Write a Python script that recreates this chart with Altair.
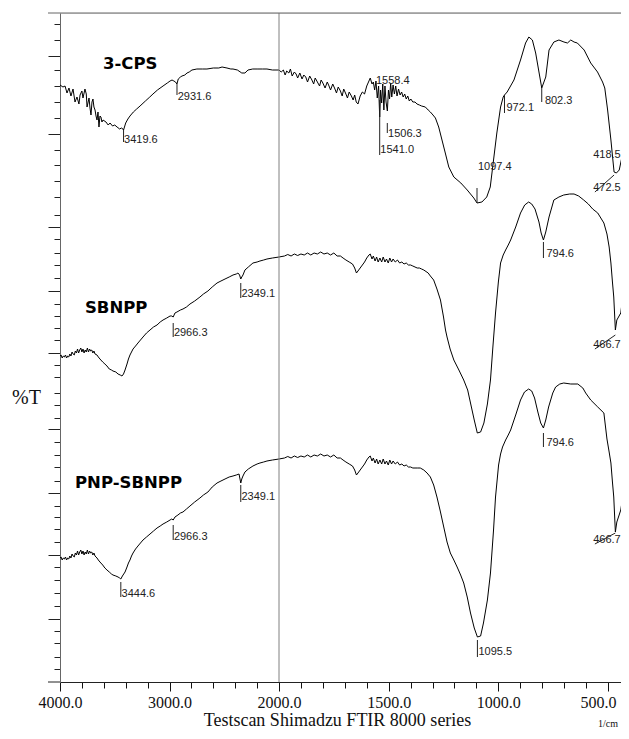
import altair as alt
import pandas as pd

# ---------------- spectra (wavenumber 1/cm, transmittance in arbitrary offset units) -------------
cps_wn = [4000, 3973, 3954, 3936, 3918, 3900, 3881, 3863, 3845, 3827, 3817, 3800, 3790, 3772, 3760, 3753,
          3735, 3726, 3717, 3708, 3699, 3690, 3680, 3671, 3662, 3653, 3644, 3635, 3626, 3617, 3607, 3580,
          3560, 3543, 3520, 3500, 3479, 3455, 3440, 3425, 3419.6, 3400, 3380, 3361, 3330, 3300, 3269, 3220,
          3180, 3151, 3110, 3059, 3020, 2995, 2977, 2960, 2945, 2932, 2920, 2900, 2886, 2860, 2840, 2820,
          2795, 2750, 2700, 2658, 2600, 2550, 2520, 2475, 2440, 2420, 2380, 2340, 2311, 2283, 2240, 2200,
          2150, 2110, 2060, 2000,
          1990, 1980, 1972, 1965, 1955, 1948, 1940, 1930, 1922, 1915, 1905, 1895, 1887, 1878, 1870, 1860,
          1850, 1842, 1835, 1825, 1815, 1808, 1800, 1790, 1780, 1772, 1765, 1755, 1745, 1738, 1730, 1720,
          1712, 1705, 1695, 1688, 1680, 1670, 1662, 1655, 1648, 1640,
          1630, 1620, 1610, 1600, 1592, 1584, 1576, 1570, 1564, 1558, 1552, 1546,
          1541, 1537, 1532, 1527, 1522, 1517, 1512, 1506, 1501, 1496, 1491, 1486, 1480, 1474, 1468, 1462,
          1455, 1448, 1441, 1434, 1427, 1420, 1413, 1406, 1399, 1390, 1380, 1371, 1360, 1350, 1333, 1320,
          1310, 1298, 1287, 1272, 1257, 1242, 1226, 1203, 1171, 1142, 1112, 1097.4, 1075, 1053, 1037, 1022,
          1007, 990, 978, 972.1, 960, 929, 899, 876, 861, 845, 830, 815, 802.3, 784, 769, 747,
          724, 701, 685, 670, 655, 640, 609, 579, 548, 525, 515, 502, 487, 478, 472.5, 462,
          449, 433, 419, 406]
cps_t = [597, 595, 596, 589, 594, 586, 593, 580, 585, 578, 587, 591, 584, 593, 588, 575,
         584, 574, 567, 580, 583, 575, 572, 566, 562, 570, 555, 566, 565, 560, 562, 560,
         557, 559, 556, 557, 555, 553, 554, 553, 552, 559, 563, 566, 570, 573, 576, 581,
         585, 588, 592, 596, 599, 601, 602, 601, 600, 598, 603, 605, 606, 607, 609, 610,
         612, 613, 613, 613, 614, 614, 615, 614, 613, 613, 612, 609, 609, 612, 613, 613,
         613, 613, 612, 612,
         610, 612, 607, 611, 609, 613, 606, 610, 608, 604, 609, 603, 607, 605, 600, 606,
         602, 598, 604, 600, 596, 602, 599, 594, 600, 596, 592, 598, 593, 589, 595, 591,
         586, 593, 588, 584, 590, 586, 582, 587, 580, 578,
         586, 590, 588, 596, 600, 604, 598, 600, 592, 601, 584, 596,
         565, 592, 579, 598, 572, 596, 580, 571, 592, 583, 599, 585, 597, 588, 596, 586,
         593, 587, 590, 585, 588, 583, 586, 581, 583, 580, 580, 578, 577, 576, 575, 572,
         570, 567, 564, 555, 542, 529, 515, 505, 499, 492, 484, 479, 480, 485, 495, 522,
         549, 575, 585, 587, 590, 602, 622, 639, 645, 642, 629, 610, 594, 605, 632, 640,
         642, 640, 639, 642, 640, 639, 632, 619, 610, 600, 594, 572, 542, 522, 510, 509,
         512, 529, 549, 572]

sb_wn = [4000, 3990, 3980, 3970, 3960, 3950, 3940, 3930, 3920, 3910, 3900, 3890, 3880, 3870, 3860, 3850,
         3840, 3830, 3820, 3810, 3800, 3790, 3780, 3770, 3760, 3750, 3740, 3730, 3720, 3710, 3700, 3690,
         3680, 3662, 3650, 3635, 3610, 3590, 3571, 3550, 3530, 3516, 3490, 3470, 3450, 3434, 3420, 3406,
         3388, 3375, 3361, 3347, 3333, 3310, 3288, 3265, 3242, 3210, 3178, 3146, 3114, 3085, 3059, 3025,
         2995, 2980, 2966.3, 2950, 2932, 2900, 2877, 2845, 2813, 2770, 2722, 2690, 2649, 2610, 2566, 2530,
         2493, 2455, 2420, 2390, 2375, 2360, 2349.1, 2340, 2329, 2311, 2280, 2238, 2200, 2174, 2140, 2110,
         2060, 2000, 1975, 1960, 1945, 1930, 1915, 1900, 1885, 1870, 1855, 1840, 1825, 1810, 1795, 1780,
         1765, 1750, 1735, 1720, 1708, 1695, 1680, 1665, 1655, 1647, 1640, 1630, 1620, 1610, 1600, 1590,
         1584, 1576, 1570, 1562, 1555, 1548, 1540, 1532, 1525, 1517, 1510, 1502, 1495, 1487, 1480, 1470,
         1460, 1450, 1440, 1430, 1420, 1410, 1400, 1390, 1380, 1370, 1360, 1350, 1340, 1320, 1310, 1295,
         1280, 1264, 1250, 1241, 1234, 1220, 1203, 1180, 1158, 1140, 1127, 1110, 1096, 1081, 1066, 1050,
         1036, 1025, 1013, 1000, 990, 978, 967, 955, 944, 921, 899, 880, 862, 848, 833, 815,
         805, 794.6, 784, 769, 747, 724, 702, 675, 655, 634, 611, 590, 570, 547, 519, 505,
         495, 487, 480, 474, 466.7, 460, 442, 433, 419, 406]
sb_t = [326, 327, 324, 326, 325, 327, 324, 326, 325, 328, 326, 330, 328, 327, 331, 329,
        333, 329, 332, 334, 330, 333, 329, 332, 330, 334, 330, 333, 331, 332, 329, 331,
        328, 327, 325, 323, 320, 318, 316, 313, 312, 311, 310, 308, 307, 306, 308, 312,
        318, 323, 327, 330, 333, 336, 339, 342, 345, 349, 352, 355, 357, 360, 362, 364,
        366, 366, 365, 369, 370, 372, 373, 375, 378, 381, 385, 388, 391, 395, 399, 401,
        403, 405, 407, 408, 409, 407, 403, 405, 407, 412, 415, 419, 420, 421, 422, 423,
        424, 425, 426, 427.5, 426, 428, 426.5, 428, 427, 429, 427, 429, 428, 430, 428, 429,
        427, 429, 426, 426, 424, 422, 420, 418, 414, 409, 411, 414, 417, 420, 424, 427,
        428, 423, 426, 421, 425, 420, 424, 420, 425, 420, 423, 419, 424, 420, 423, 420,
        422, 419, 420, 418, 419, 417, 417, 416, 415, 414, 414, 413, 412, 409, 406, 402,
        393, 382, 365, 352, 345, 333, 322, 312, 302, 292, 279, 262, 249, 250, 259, 278,
        302, 335, 369, 400, 419, 427, 432, 437, 442, 455, 469, 477, 480, 478, 473, 460,
        449, 442, 450, 465, 482, 485, 487, 488, 488, 486, 482, 478, 473, 469, 459, 448,
        435, 419, 400, 385, 352, 362, 369, 385, 419, 452]

pnp_wn = [4000, 3990, 3980, 3970, 3960, 3950, 3940, 3930, 3920, 3910, 3900, 3890, 3880, 3870, 3860, 3850,
          3840, 3830, 3820, 3810, 3800, 3790, 3780, 3770, 3760, 3750, 3740, 3730, 3720, 3710, 3700, 3690,
          3680, 3662, 3650, 3635, 3610, 3590, 3571, 3550, 3530, 3516, 3490, 3470, 3455, 3444.6, 3430, 3406,
          3388, 3375, 3361, 3347, 3333, 3310, 3288, 3265, 3242, 3210, 3178, 3146, 3114, 3085, 3059, 3025,
          2995, 2980, 2966.3, 2950, 2923, 2900, 2877, 2845, 2813, 2770, 2722, 2690, 2649, 2610, 2566, 2530,
          2493, 2455, 2420, 2390, 2365, 2349.1, 2340, 2329, 2311, 2280, 2238, 2200, 2174, 2140, 2110, 2060,
          2000, 1975, 1960, 1945, 1930, 1915, 1900, 1885, 1870, 1855, 1840, 1825, 1810, 1795, 1780, 1765,
          1750, 1735, 1720, 1708, 1695, 1680, 1665, 1655, 1647, 1640, 1630, 1620, 1610, 1600, 1590, 1584,
          1576, 1570, 1562, 1555, 1548, 1540, 1532, 1525, 1517, 1510, 1502, 1495, 1487, 1480, 1470, 1460,
          1450, 1440, 1430, 1420, 1410, 1400, 1390, 1380, 1370, 1356, 1340, 1325, 1310, 1295, 1280, 1265,
          1249, 1234, 1219, 1203, 1188, 1172, 1158, 1142, 1127, 1110, 1095.5, 1081, 1068, 1050, 1036, 1022,
          1013, 999, 990, 981, 967, 955, 944, 921, 899, 881, 862, 848, 835, 820, 807, 794.6,
          784, 771, 752, 739, 720, 702, 670, 638, 615, 602, 579, 547, 519, 505, 495, 487,
          480, 474, 466.7, 460, 442, 433, 419, 406]
pnp_t = [124, 125, 122, 124, 123, 125, 122, 124, 123, 126, 124, 128, 126, 125, 129, 127,
         131, 127, 130, 132, 128, 131, 127, 130, 128, 132, 128, 131, 129, 130, 127, 129,
         126, 124, 122, 120, 117, 114, 112, 110, 108, 107, 106, 105, 104, 103, 106, 110,
         115, 119, 122, 126, 129, 133, 136, 139, 142, 145, 148, 151, 154, 156, 158, 160,
         162, 163, 162, 165, 167, 169, 170, 173, 176, 180, 184, 187, 190, 195, 199, 201,
         203, 205, 206, 207, 208, 199, 203, 206, 210, 213, 216, 218, 219, 220, 221, 222,
         223, 224, 225.5, 224, 226, 224.5, 226, 225, 227, 225, 227, 226, 228, 226, 227, 225,
         227, 224, 224, 222, 220, 218, 216, 212, 207, 209, 212, 215, 218, 222, 225, 226,
         221, 224, 219, 223, 218, 222, 218, 223, 218, 221, 217, 222, 218, 221, 218, 220,
         217, 218, 216, 217, 215, 215, 214, 214, 214, 214, 212, 209, 205, 197, 185, 171,
         155, 140, 129, 122, 115, 107, 99, 85, 69, 54, 45, 46, 59, 82, 109, 152,
         185, 217, 228, 235, 242, 247, 252, 267, 282, 290, 293, 291, 284, 270, 259, 254,
         262, 275, 289, 295, 298, 299, 298, 298, 294, 289, 282, 275, 269, 243, 230, 219,
         200, 185, 150, 160, 172, 185, 219, 252]

series_names = ["3-CPS", "SBNPP", "PNP-SBNPP"]

# ---------------- annotations -------------
name_wn = [3607, 3772, 3863]
name_t = [618, 374, 199]

lab_text = ["3419.6", "2931.6", "1558.4", "1541.0", "1506.3", "1097.4", "972.1", "802.3", "472.5", "418.5",
            "2966.3", "2349.1", "794.6", "466.7",
            "3444.6", "2966.3", "2349.1", "794.6", "1095.5", "466.7"]
lab_wn = [3415, 2925, 1558, 1538, 1503, 1093, 963, 788, 568, 568,
          2960, 2343, 781, 568,
          3438, 2960, 2343, 781, 1091, 568]
lab_t = [542, 585, 601, 532, 548, 515, 574, 581, 494, 527,
         349, 388, 428, 337,
         88, 145, 185, 239, 30, 142]

mk_wn = [3419.6, 2931.6, 1541.0, 1506.3, 1097.4, 972.1, 802.3,
         2966.3, 2349.1, 794.6,
         3444.6, 2966.3, 2349.1, 794.6, 1095.5]
mk_t1 = [552, 598, 582, 559, 494, 587, 594, 359, 399, 440, 100, 157, 197, 249, 42]
mk_t2 = [540, 587, 527, 549, 479, 569, 580, 345, 384, 424, 85, 142, 180, 235, 25]

dg_wn1 = [560, 560, 560]
dg_t1 = [490, 333, 138]
dg_wn2 = [472.5, 466.7, 466.7]
dg_t2 = [507, 347, 149]

x_ticks = [4000, 3800, 3600, 3400, 3200, 3000, 2800, 2600, 2400, 2200, 2000,
           1900, 1800, 1700, 1600, 1500, 1400, 1300, 1200, 1100, 1000, 900, 800, 700, 600, 500]
y_major = [626.3, 547.7, 455.3, 391, 329.3, 252.7, 188.7, 127, 63]
y_minor = [657.7, 641.7, 611.7, 595.7, 579.7, 563.7, 532, 516.7, 501, 485, 467, 442.7, 429.3, 416.7,
           403.7, 378.3, 366, 353.7, 342, 317.3, 304.7, 289.3, 277.3, 264.3, 240, 227, 214.7, 201.3,
           176.3, 164.7, 152.7, 140.3, 114.7, 102, 88.7, 76.3, 51, 38.7, 25.3, 12.7]

for a, b in [(cps_wn, cps_t), (sb_wn, sb_t), (pnp_wn, pnp_t)]:
    assert len(a) == len(b), (len(a), len(b))

# ---------------- build tables -------------
rows = []
for name, wn, tt in zip(series_names, [cps_wn, sb_wn, pnp_wn], [cps_t, sb_t, pnp_t]):
    for a, b in zip(wn, tt):
        rows.append({"series": name, "wn": a, "t": b})
spec = pd.DataFrame(rows)
names = pd.DataFrame({"name": series_names, "wn": name_wn, "t": name_t})
labels = pd.DataFrame({"text": lab_text, "wn": lab_wn, "t": lab_t})
marks = pd.DataFrame({"wn": mk_wn, "t1": mk_t1, "t2": mk_t2})
diags = pd.DataFrame({"wn1": dg_wn1, "t1": dg_t1, "wn2": dg_wn2, "t2": dg_t2})

W, H = 561, 669
xs = alt.Scale(domain=[4000, 2000, 441], range=[0, 219, W], nice=False, zero=False)
ys = alt.Scale(domain=[0, 669], nice=False, zero=False)

xmaj = "(datum.value % 1000 === 0 || (datum.value < 2000 && datum.value % 500 === 0))"
ymaj = "indexof([" + ",".join(str(v) for v in y_major) + "], datum.value) >= 0"

x_axis = alt.Axis(
    values=x_ticks, labelExpr=xmaj + " ? format(datum.value, '.1f') : ''",
    labelFont="Liberation Serif", labelFontSize=16, labelColor="#111", labelFlush=False,
    labelOverlap=False, labelPadding=3,
    labelOffset={"condition": {"test": "datum.value === 500", "value": -10}, "value": 0},
    tickSize={"condition": {"test": xmaj, "value": 9}, "value": 6},
    tickColor="#111", domainColor="#222", grid=False,
    title="Testscan Shimadzu FTIR 8000 series", titleFont="Liberation Serif", titleFontSize=18,
    titleFontWeight="normal", titleColor="#111", titleX=277, titleY=43,
    titleAlign="center", titleBaseline="alphabetic")
y_axis = alt.Axis(
    values=y_major + y_minor, labels=False,
    tickSize={"condition": {"test": ymaj, "value": 12}, "value": 6},
    tickColor="#222", domainColor="#666", grid=False,
    title="%T", titleFont="Liberation Serif", titleFontSize=20, titleFontWeight="normal",
    titleColor="#111", titleAngle=0, titleX=-34, titleY=384, titleAlign="center",
    titleBaseline="middle")


def X(field):
    return alt.X(field, scale=xs, axis=x_axis)


def Y(field):
    return alt.Y(field, scale=ys, axis=y_axis)


lines = alt.Chart(spec).mark_line(color="black", strokeWidth=1, clip=True, interpolate="linear").encode(
    x=X("wn:Q"), y=Y("t:Q"), detail="series:N")

divider = alt.Chart(pd.DataFrame({"wn": [2000]})).mark_rule(color="#808080", strokeWidth=1).encode(
    x=X("wn:Q"))

one = alt.Data(values=[{"a": 1}])
top_line = alt.Chart(one).mark_rule(color="#666", strokeWidth=1).encode(
    x=alt.value(-12), x2=alt.value(W), y=alt.value(0))
bot_ext = alt.Chart(one).mark_rule(color="#222", strokeWidth=1).encode(
    x=alt.value(-12), x2=alt.value(0), y=alt.value(H))

name_text = alt.Chart(names).mark_text(
    font="DejaVu Sans", fontWeight="bold", fontSize=16.5, align="left", baseline="middle", color="black"
).encode(x=X("wn:Q"), y=Y("t:Q"), text="name:N")

peak_text = alt.Chart(labels).mark_text(
    font="Liberation Sans", fontSize=11, align="left", baseline="middle", color="#222"
).encode(x=X("wn:Q"), y=Y("t:Q"), text="text:N")

peak_marks = alt.Chart(marks).mark_rule(color="#222", strokeWidth=1).encode(
    x=X("wn:Q"), y=Y("t1:Q"), y2="t2:Q")

diag_marks = alt.Chart(diags).mark_rule(color="#222", strokeWidth=1).encode(
    x=X("wn1:Q"), x2="wn2:Q", y=Y("t1:Q"), y2="t2:Q")

unit = alt.Chart(one).mark_text(font="Liberation Serif", fontSize=10, align="center",
                                baseline="middle", color="#111").encode(
    x=alt.value(548), y=alt.value(H + 42), text=alt.value("1/cm"))

chart = alt.layer(
    lines, divider, peak_marks, diag_marks, peak_text, name_text, top_line, bot_ext, unit
).properties(
    width=W, height=H,
    autosize=alt.AutoSizeParams(type="none"),
    padding={"left": 52, "top": 5, "right": 0, "bottom": 48},
).configure_view(strokeWidth=0).configure(background="white")

chart.save("out.html", embed_options={"renderer": "svg", "actions": False})
